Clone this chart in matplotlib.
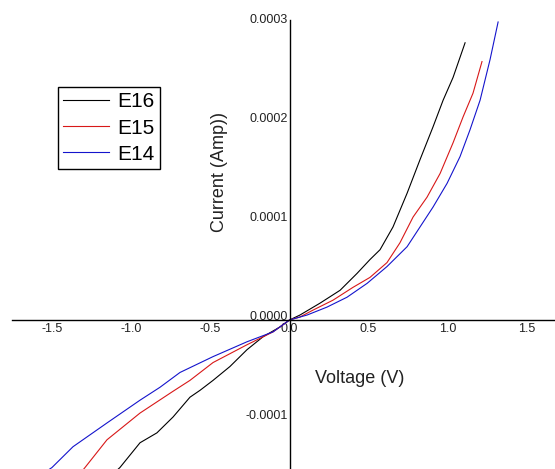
import numpy as np
import matplotlib
matplotlib.use('Agg')
import matplotlib.pyplot as plt

plt.rcParams['font.family'] = ['Liberation Sans', 'DejaVu Sans']
plt.rcParams['axes.unicode_minus'] = False

# I-V data (current in units of 1e-4 A)
v_e16 = [-1.12, -1.073, -0.946, -0.839, -0.737, -0.630, -0.566, -0.484, -0.377, -0.269, -0.168, -0.060, 0.0,
         0.066, 0.193, 0.320, 0.427, 0.509, 0.573, 0.655, 0.744, 0.826, 0.908, 0.972, 1.035, 1.111]
i_e16 = [-1.56, -1.49, -1.24, -1.14, -0.98, -0.78, -0.71, -0.61, -0.47, -0.30, -0.17, -0.07, 0.0,
         0.05, 0.17, 0.30, 0.47, 0.61, 0.71, 0.94, 1.28, 1.62, 1.95, 2.22, 2.45, 2.80]

v_e15 = [-1.32, -1.294, -1.155, -0.946, -0.737, -0.630, -0.484, -0.269, -0.104, 0.0,
         0.066, 0.149, 0.275, 0.402, 0.509, 0.617, 0.699, 0.782, 0.870, 0.953, 1.035, 1.098, 1.161, 1.218]
i_e15 = [-1.54, -1.49, -1.21, -0.94, -0.72, -0.61, -0.43, -0.25, -0.12, 0.0,
         0.03, 0.10, 0.20, 0.33, 0.43, 0.58, 0.78, 1.04, 1.24, 1.48, 1.79, 2.05, 2.29, 2.61]

v_e14 = [-1.54, -1.503, -1.370, -1.155, -0.946, -0.820, -0.693, -0.484, -0.269, -0.104, 0.0,
         0.111, 0.237, 0.364, 0.491, 0.617, 0.744, 0.826, 0.908, 0.997, 1.079, 1.142, 1.206, 1.269, 1.320]
i_e14 = [-1.53, -1.49, -1.28, -1.04, -0.81, -0.68, -0.53, -0.37, -0.22, -0.12, 0.0,
         0.05, 0.13, 0.23, 0.37, 0.54, 0.74, 0.94, 1.14, 1.38, 1.65, 1.92, 2.22, 2.63, 3.01]

x_ticks = [-1.5, -1.0, -0.5, 0.0, 0.5, 1.0, 1.5]
x_ticklabels = ['-1.5', '-1.0', '-0.5', '0.0', '0.5', '1.0', '1.5']
y_ticks = [-0.0001, 0.0, 0.0001, 0.0002, 0.0003]
y_ticklabels = ['-0.0001', '0.0000', '0.0001', '0.0002', '0.0003']

fig = plt.figure(figsize=(5.55, 4.69), dpi=100)
ax = fig.add_axes([12 / 555, 0, 543 / 555, 449 / 469])

scale = 1e-4
ax.plot(v_e16, np.array(i_e16) * scale, color='black', lw=0.8, label='E16')
ax.plot(v_e15, np.array(i_e15) * scale, color='#d81818', lw=0.8, label='E15')
ax.plot(v_e14, np.array(i_e14) * scale, color='#1414cc', lw=0.8, label='E14')

ax.set_xlim(-1.756, 1.68)
ax.set_ylim(-1.505e-4, 3.03e-4)

# axes crossing at the origin
ax.spines['left'].set_position(('data', 0))
ax.spines['bottom'].set_position(('data', 0))
ax.spines['top'].set_visible(False)
ax.spines['right'].set_visible(False)
ax.spines['left'].set_linewidth(1.0)
ax.spines['bottom'].set_linewidth(1.0)

ax.set_xticks(x_ticks)
ax.set_xticklabels(x_ticklabels, fontsize=9, color='#222222')
ax.set_yticks(y_ticks)
ax.set_yticklabels(y_ticklabels, fontsize=9, color='#222222')
ax.tick_params(axis='x', length=0, pad=2)
ax.tick_params(axis='y', length=0, pad=1)
for t in ax.get_yticklabels():
    t.set_va('baseline')

ax.set_xlabel('Voltage (V)', fontsize=13, color='#222222')
ax.xaxis.set_label_coords((360 - 12) / 543, (469 - 378) / 449)
ax.xaxis.label.set_va('center')
ax.set_ylabel('Current (Amp))', fontsize=13, color='#222222')
ax.yaxis.set_label_coords((220 - 12) / 543, (469 - 172) / 449)
ax.yaxis.label.set_va('center')

leg = ax.legend(loc='upper left', bbox_to_anchor=(58 / 555, 1 - 87 / 469), bbox_transform=fig.transFigure,
                fontsize=15, frameon=True, fancybox=False, edgecolor='black', framealpha=1,
                handlelength=2.2, handletextpad=0.4, labelspacing=0.35, borderpad=0.25, borderaxespad=0)
leg.get_frame().set_linewidth(1.0)

fig.savefig('out.png', dpi=100)
